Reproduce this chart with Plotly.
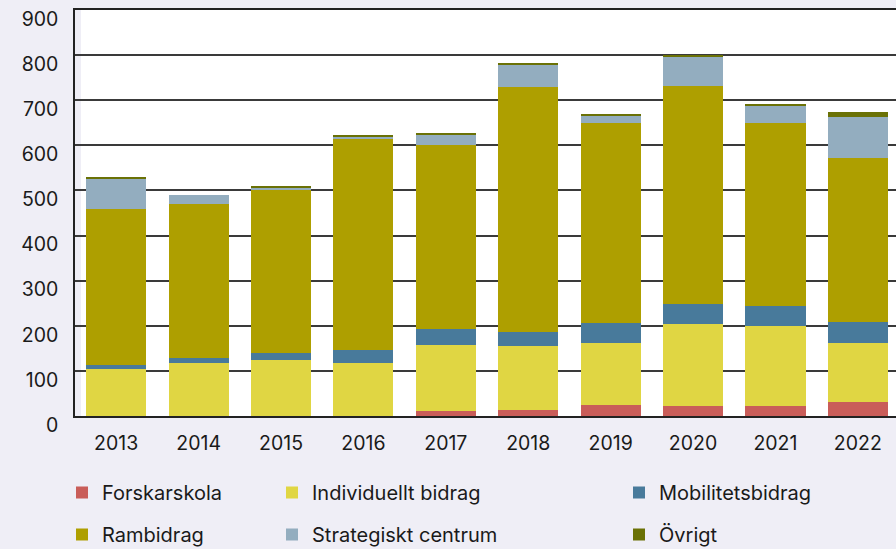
import plotly.graph_objects as go

years = ["2013", "2014", "2015", "2016", "2017", "2018", "2019", "2020", "2021", "2022"]
forskarskola = [0, 0, 0, 0, 11, 13, 24, 22, 22, 31]
individuellt = [104, 118, 124, 118, 147, 142, 138, 182, 178, 131]
mobilitet = [9, 11, 16, 28, 35, 31, 44, 44, 44, 47]
rambidrag = [346, 342, 362, 467, 407, 544, 443, 484, 405, 363]
strategiskt = [67, 19, 5, 7, 24, 49, 17, 64, 40, 91]
ovrigt = [2, 0, 3, 3, 4, 2, 4, 4, 3, 11]
y_ticks = [0, 100, 200, 300, 400, 500, 600, 700, 800, 900]

series = [
    ("Forskarskola", forskarskola, "#C95D59", "legend"),
    ("Individuellt bidrag", individuellt, "#E0D643", "legend2"),
    ("Mobilitetsbidrag", mobilitet, "#487A9B", "legend3"),
    ("Rambidrag", rambidrag, "#AE9F00", "legend"),
    ("Strategiskt centrum", strategiskt, "#93ADBF", "legend2"),
    ("Övrigt", ovrigt, "#6A7105", "legend3"),
]

FONT = "Inter"
BG = "#EFEEF6"
TXT = "#1a1a1a"

fig = go.Figure()
for name, vals, col, leg in series:
    fig.add_trace(go.Bar(
        x=years, y=vals, name=name, marker_color=col, marker_line_width=0,
        legend=leg, legendgroup=name,
    ))

leg_common = dict(
    orientation="v", xref="container", yref="container", xanchor="left",
    yanchor="top", bgcolor="rgba(0,0,0,0)", traceorder="grouped",
    font=dict(family=FONT, size=20, color=TXT), tracegroupgap=13,
)
ytop = (549 - 473) / 549

fig.update_layout(
    width=896, height=549,
    margin=dict(l=75, r=0, t=10, b=133, autoexpand=False),
    paper_bgcolor=BG, plot_bgcolor="white",
    barmode="stack", bargap=0.27,
    font=dict(family=FONT, size=19, color=TXT),
    legend=dict(x=62 / 896, y=ytop, **leg_common),
    legend2=dict(x=272 / 896, y=ytop, **leg_common),
    legend3=dict(x=619 / 896, y=ytop, **leg_common),
    xaxis=dict(
        type="category", range=[-0.5, 9.463], showgrid=False,
        showline=True, linecolor="#222", linewidth=2, mirror=True,
        ticks="", ticklabelstandoff=9, tickangle=0, automargin=False,
        tickfont=dict(family=FONT, size=19.5, color=TXT),
    ),
    yaxis=dict(
        range=[0, 900], tickvals=y_ticks, ticktext=[str(v) for v in y_ticks],
        showgrid=True, gridcolor="#3a3a3a", gridwidth=1.5, automargin=False,
        zeroline=False, showline=True, linecolor="#222", linewidth=1.5,
        ticks="", ticklabelstandoff=11, ticklabelshift=9,
        tickfont=dict(family=FONT, size=19.5, color=TXT),
    ),
    shapes=[dict(
        type="rect", xref="paper", yref="paper", x0=0, x1=6 / 821, y0=0, y1=1,
        fillcolor=BG, line_width=0, layer="below",
    )],
)

fig.write_html("out.html", config={"displayModeBar": False},
               post_script="document.body.style.margin='0';")
